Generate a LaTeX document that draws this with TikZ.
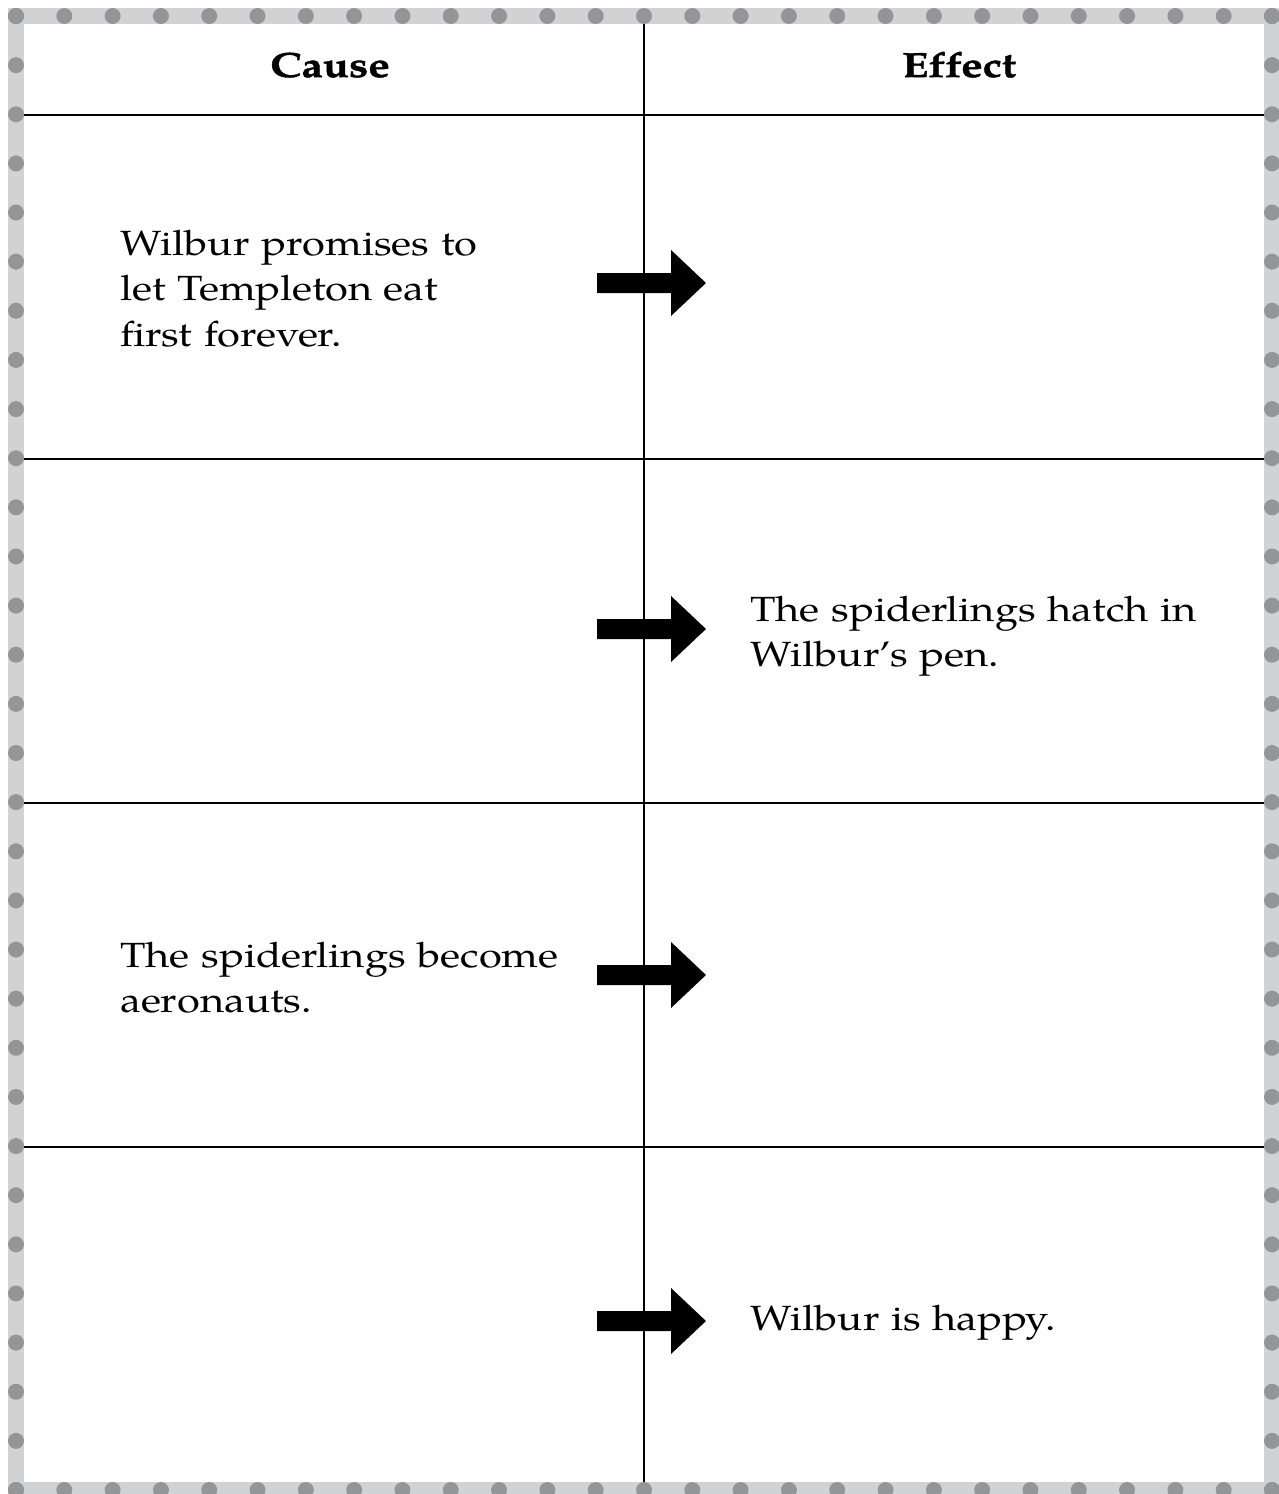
\documentclass[tikz,border=0pt]{standalone}
\usepackage{fontspec}
\setmainfont{texgyrepagella}[Extension=.otf, UprightFont=*-regular, BoldFont=*-bold, ItalicFont=*-italic, BoldItalicFont=*-bolditalic]
\newfontfamily\pbody{texgyrepagella-regular.otf}[FakeStretch=1.19]
\newfontfamily\phead{texgyrepagella-bold.otf}[FakeStretch=1.23, FakeBold=1.2, Ligatures=NoCommon]
\definecolor{bandc}{HTML}{D1D2D4}
\definecolor{dotc}{HTML}{939598}
\tikzset{
  gridline/.style={black, line width=2.5pt},
  bodytext/.style={anchor=base west, inner sep=0pt, align=left, text width=520pt,
    font=\pbody\fontsize{35}{45.5}\selectfont},
  headtext/.style={anchor=base, inner sep=0pt, font=\phead\fontsize{35}{42}\selectfont},
  blockarrow/.style={fill=black, draw=none}
}
\begin{document}
\begin{tikzpicture}[x=1pt, y=-1pt]
\useasboundingbox (0,0) rectangle (1278,1494);
% dotted border band
\draw[bandc, line width=16pt] (16,16) rectangle (1272,1490);
\foreach \i in {0,...,26} {
  \fill[dotc] ({16+\i*48.3077},16) circle (8pt);
  \fill[dotc] ({16+\i*48.3077},1490) circle (8pt);
}
\foreach \j in {0,...,30} {
  \fill[dotc] (16,{16+\j*49.1333}) circle (8pt);
  \fill[dotc] (1272,{16+\j*49.1333}) circle (8pt);
}
% grid
\coordinate (vtop) at (644,24);
\coordinate (vbot) at (644,1482);
\draw[gridline] (vtop) -- (vbot);
\foreach \y/\n in {115/a,459/b,803/c,1147/d} {
  \coordinate (L\n) at (24,\y);
  \coordinate (R\n) at (1264,\y);
  \draw[gridline] (L\n) -- (R\n);
}
% headers
\node[headtext] (cause) at (330,77) {Cause};
\node[headtext] (effect) at (959,77) {Effect};
% arrows
\foreach \c in {283,629,975,1321} {
  \fill[blockarrow] (597,\c-10) -- (671,\c-10) -- (671,\c-33) -- (706,\c) -- (671,\c+33) -- (671,\c+10) -- (597,\c+10) -- cycle;
}
% texts
\node[bodytext] (c1) at (120,255) {Wilbur promises to\\let Templeton eat\\first forever.};
\node[bodytext] (e2) at (750,621) {The spiderlings hatch in\\Wilbur’s pen.};
\node[bodytext] (c3) at (120,967) {The spiderlings become\\aeronauts.};
\node[bodytext] (e4) at (750,1330) {Wilbur is happy.};
\end{tikzpicture}
\end{document}
